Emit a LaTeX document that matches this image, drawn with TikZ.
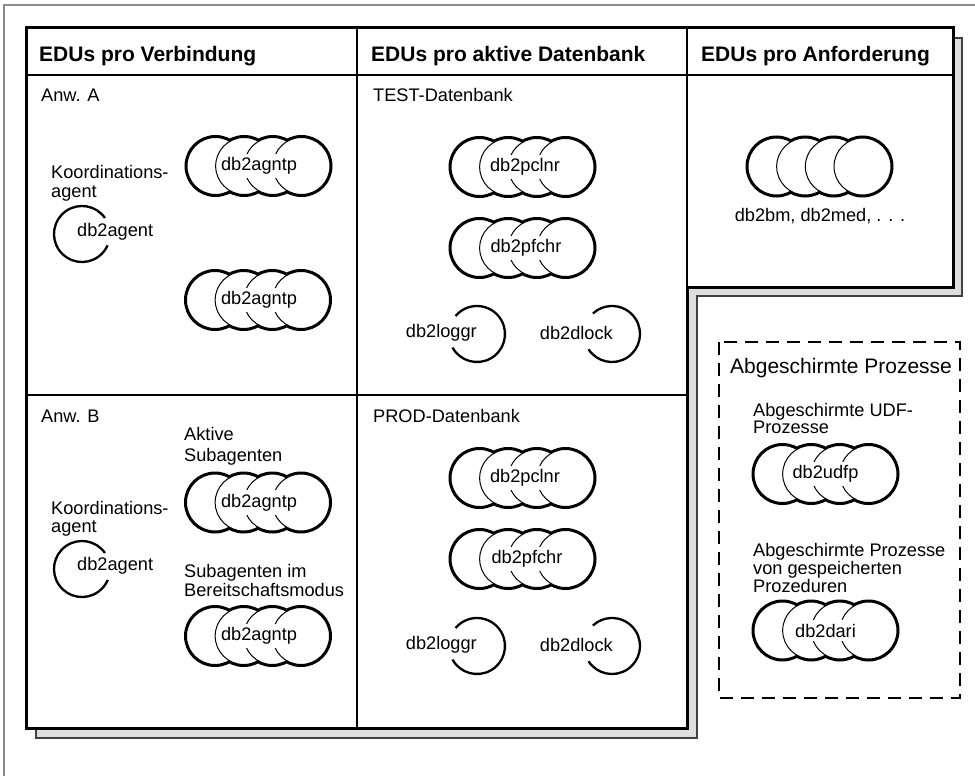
\documentclass[tikz,border=0pt]{standalone}
\usepackage{fontspec}
\setmainfont{Liberation Sans}
\definecolor{framegray}{rgb}{0.55,0.55,0.55}
\definecolor{shadowfill}{rgb}{0.87,0.87,0.87}
\definecolor{shadowline}{rgb}{0.25,0.25,0.25}

% four overlapping process circles: thick outer outline, thin inner arcs
\newcommand\procstack[2]{%
  \foreach \dx in {-43,-14.33,14.33,43}{\draw[stackouter] ({#1+(\dx)},#2) circle[radius=28.5pt];}
  \foreach \dx in {-43,-14.33,14.33,43}{\draw[stackinner] ({#1+(\dx)},#2) circle[radius=28.5pt];}
}
% single process drawn as an open circle
\newcommand\openloop[4]{%
  \draw[loopline] ([shift={(#3:28pt)}]#1,#2) arc[start angle=#3, end angle=#4, radius=28pt];
}

\begin{document}
\begin{tikzpicture}[x=1pt,y=-1pt,
  frame/.style={draw=framegray, line width=1.5pt},
  shadowbox/.style={fill=shadowfill, draw=shadowline, line width=1.2pt},
  boxline/.style={line width=3pt, line join=miter},
  divider/.style={line width=2.6pt},
  dashbox/.style={line width=2.3pt, dash pattern=on 13pt off 8pt},
  lbl/.style={font=\fontsize{18.2}{19}\selectfont, inner sep=0pt, anchor=base west},
  hdr/.style={font=\bfseries\fontsize{21}{24}\selectfont, inner sep=0pt, anchor=base west},
  title/.style={font=\fontsize{21}{24}\selectfont, inner sep=0pt, anchor=base west},
  stacklbl/.style={font=\fontsize{18.2}{19}\selectfont, fill=white, inner xsep=1.2pt, inner ysep=4pt},
  plainlbl/.style={font=\fontsize{18.2}{19}\selectfont, inner sep=0pt},
  stackouter/.style={line width=5pt},
  stackinner/.style={line width=1pt, fill=white},
  loopline/.style={line width=2.3pt},
]
\useasboundingbox (0,0) rectangle (975,776);

% page frame
\draw[frame] (4,776) -- (4,5) -- (975,5);

% shadow and main table outline
\draw[shadowbox] (36,38) -- (962,38) -- (962,296) -- (697,296) -- (697,738) -- (36,738) -- cycle;
\draw[boxline, fill=white] (26,28) -- (953,28) -- (953,287) -- (687,287) -- (687,728) -- (26,728) -- cycle;
\draw[divider] (26,75) -- (953,75);
\draw[divider] (357,28) -- (357,728);
\draw[divider] (687,28) -- (687,287);
\draw[divider] (26,395) -- (687,395);

% column headers
\node[hdr] (hconn) at (39,62) {EDUs pro Verbindung};
\node[hdr] (hdb) at (371,62) {EDUs pro aktive Datenbank};
\node[hdr] (hreq) at (701,62) {EDUs pro Anforderung};

% ---- application A
\node[lbl] (anwA) at (41,102) {Anw. A};
\node[lbl] (koordA) at (51,178) {\vtop{\baselineskip=19pt\hbox{Koordinations-}\hbox{agent}}};
\openloop{82}{234}{35}{336}
\node[plainlbl, anchor=west] (agentA) at (77,232) {db2agent};
\procstack{258.5}{166}
\node[stacklbl] (agntpA1) at (259,166) {db2agntp};
\procstack{258}{300}
\node[stacklbl] (agntpA2) at (259,300) {db2agntp};

% ---- application B
\node[lbl] (anwB) at (41,422.5) {Anw. B};
\node[lbl] (koordB) at (51,514) {\vtop{\baselineskip=18pt\hbox{Koordinations-}\hbox{agent}}};
\openloop{82}{569}{35}{337}
\node[plainlbl, anchor=west] (agentB) at (77,566) {db2agent};
\node[lbl] (aktiv) at (184,440) {\vtop{\baselineskip=21pt\hbox{Aktive}\hbox{Subagenten}}};
\procstack{258}{502.5}
\node[stacklbl] (agntpB1) at (259,502.5) {db2agntp};
\node[lbl] (bereit) at (184,577) {\vtop{\baselineskip=19pt\hbox{Subagenten im}\hbox{Bereitschaftsmodus}}};
\procstack{258}{636}
\node[stacklbl] (agntpB2) at (259,636) {db2agntp};

% ---- TEST database
\node[lbl] (testdb) at (373,102) {TEST-Datenbank};
\procstack{522.5}{167}
\node[stacklbl] (pclnrT) at (525,167) {db2pclnr};
\procstack{522.5}{248}
\node[stacklbl] (pfchrT) at (526,248) {db2pfchr};
\openloop{477}{334}{-151}{140}
\node[plainlbl, anchor=east] (loggrT) at (477,333) {db2loggr};
\openloop{612}{334}{-147}{133}
\node[plainlbl, anchor=east] (dlockT) at (613,333) {db2dlock};

% ---- PROD database
\node[lbl] (proddb) at (373,422.5) {PROD-Datenbank};
\procstack{522.5}{478}
\node[stacklbl] (pclnrP) at (525,478) {db2pclnr};
\procstack{522.5}{559}
\node[stacklbl] (pfchrP) at (527,559) {db2pfchr};
\openloop{477}{646}{-151}{140}
\node[plainlbl, anchor=east] (loggrP) at (477,645) {db2loggr};
\openloop{612}{646}{-147}{133}
\node[plainlbl, anchor=east] (dlockP) at (613,645) {db2dlock};

% ---- per request
\procstack{819.5}{166.5}
\node[plainlbl, anchor=base] (bmlbl) at (820,221.7) {db2bm, db2med, . . .};

% ---- fenced processes
\draw[dashbox] (719,342) rectangle (960,698);
\node[title] (fenced) at (730,373) {Abgeschirmte Prozesse};
\node[lbl] (udflbl) at (753,416) {\vtop{\baselineskip=17.5pt\hbox{Abgeschirmte UDF-}\hbox{Prozesse}}};
\procstack{825.5}{474}
\node[stacklbl] (udfp) at (825.5,474) {db2udfp};
\node[lbl] (sproclbl) at (753,556) {\vtop{\baselineskip=18pt\hbox{Abgeschirmte Prozesse}\hbox{von gespeicherten}\hbox{Prozeduren}}};
\procstack{825.5}{630.5}
\node[stacklbl] (dari) at (825.5,630.5) {db2dari};
\end{tikzpicture}
\end{document}
